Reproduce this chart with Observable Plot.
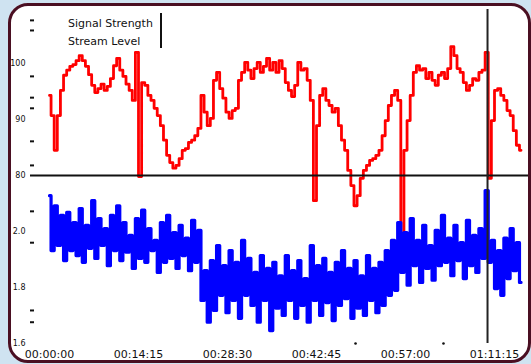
<!DOCTYPE html>
<html>
<head>
<meta charset="utf-8">
<script src="https://cdn.jsdelivr.net/npm/d3@7"></script>
<script src="https://cdn.jsdelivr.net/npm/@observablehq/plot@0.6"></script>
<style>
  html, body { margin: 0; padding: 0; }
  body { width: 531px; height: 364px; overflow: hidden; position: relative; background: #cfe3f1; font-family: "DejaVu Sans", sans-serif; }
  #panel { position: absolute; left: 8px; top: 3px; width: 517px; height: 354px; border: 3px solid transparent; border-radius: 20px; background: #ffffff; }
  #panelBorder { position: absolute; left: 8px; top: 3px; width: 517px; height: 354px; border: 3px solid #4a0f22; border-radius: 20px; z-index: 3; pointer-events: none; }
  #chart { position: absolute; left: 0; top: 0; z-index: 1; }
  #legend { position: absolute; left: 68px; top: 15px; z-index: 2; font-size: 11px; line-height: 17.5px; color: #111; }
  #legendLine { position: absolute; left: 160px; top: 13px; width: 2px; height: 35px; background: #111; z-index: 2; }
</style>
</head>
<body>
<div id="panel"></div>
<div id="chart"></div>
<div id="legend"></div>
<div id="legendLine"></div>
<div id="panelBorder"></div>
<script>
// ---- data ----
const sampleInterval = 30; // seconds between samples
const signalStrength = [
  44.3, 40.7, 34.5, 40.7, 45.2, 47.9, 48.8, 49.5, 49.8, 50.5,
  51.4, 50.5, 49.5, 48.0, 46.1, 44.8, 45.5, 46.3, 45.2, 45.9,
  47.3, 49.6, 50.9, 48.8, 47.7, 46.3, 45.2, 43.4, 52.0, 29.8,
  46.6, 46.1, 44.3, 43.4, 42.0, 40.7, 38.9, 36.3, 33.6, 32.3,
  31.3, 31.8, 33.0, 34.5, 34.8, 35.9, 36.3, 37.1, 38.4, 44.3,
  41.3, 38.9, 40.2, 47.0, 48.4, 45.5, 43.8, 41.3, 40.2, 41.6,
  42.0, 47.0, 48.4, 50.2, 48.8, 47.3, 49.1, 50.2, 48.4, 49.5,
  50.9, 48.8, 50.2, 48.4, 50.5, 49.1, 46.6, 45.2, 44.1, 46.1,
  50.2, 48.8, 49.1, 47.0, 43.4, 25.5, 38.9, 44.3, 45.5, 43.4,
  42.5, 41.3, 42.0, 38.9, 36.3, 34.5, 30.9, 28.2, 24.6, 26.4,
  29.5, 30.9, 31.8, 32.7, 33.0, 33.6, 34.5, 37.1, 39.8, 42.5,
  44.3, 45.2, 43.4, 18.4, 34.5, 39.8, 44.3, 48.4, 49.6, 48.8,
  49.1, 47.3, 48.4, 47.0, 46.1, 47.9, 48.4, 47.3, 49.1, 53.0,
  51.4, 49.1, 48.4, 46.6, 45.2, 46.1, 47.3, 47.0, 48.4, 48.8,
  52.0, 29.5, 39.8, 45.2, 45.5, 44.3, 43.4, 41.6, 40.7, 38.0,
  35.4, 34.5
];
const streamLevel = [
  26.4, 16.6, 24.6, 17.5, 22.9, 14.8, 23.4, 16.6, 21.6, 15.7,
  24.1, 14.5, 21.1, 17.0, 25.5, 15.2, 22.3, 17.5, 20.5, 13.9,
  22.9, 16.6, 24.6, 14.8, 21.6, 16.3, 19.3, 13.4, 22.3, 15.2,
  23.8, 14.5, 20.5, 16.6, 18.4, 12.7, 21.6, 14.5, 22.9, 15.2,
  19.8, 13.4, 21.1, 15.7, 18.8, 13.0, 22.0, 14.5, 20.2, 7.7,
  13.0, 3.8, 14.8, 5.9, 17.5, 8.6, 13.9, 5.5, 16.6, 7.7,
  14.5, 4.5, 18.4, 8.6, 15.2, 6.8, 12.7, 3.8, 15.7, 7.7,
  13.4, 2.3, 14.5, 6.3, 12.1, 5.0, 15.7, 7.7, 13.0, 4.5,
  14.8, 6.8, 11.6, 3.8, 17.5, 7.7, 13.9, 5.0, 15.2, 7.3,
  12.7, 4.1, 14.5, 6.8, 16.6, 8.0, 13.4, 4.5, 14.8, 6.3,
  12.1, 5.0, 15.7, 7.7, 13.4, 5.5, 14.5, 6.8, 16.6, 8.6,
  18.4, 9.5, 21.6, 12.7, 19.8, 10.4, 22.3, 13.9, 18.4, 10.9,
  21.1, 13.4, 17.5, 11.3, 20.2, 13.9, 22.9, 14.5, 18.8, 12.1,
  21.1, 14.8, 18.0, 11.6, 22.0, 13.9, 19.3, 12.7, 20.5, 15.2,
  27.3, 14.5, 18.4, 9.8, 16.6, 8.6, 18.8, 11.6, 20.5, 13.0,
  18.0, 10.9
];
const seriesNames = ["Signal Strength", "Stream Level"];
const xTicks = [0, 855, 1710, 2565, 3420, 4275];
const xTickLabels = ["00:00:00", "00:14:15", "00:28:30", "00:42:45", "00:57:00", "01:11:15"];
const xMinorTicks = [2940, 3785];
const yTicks = [0, 10, 20, 30, 40, 50];
const yTickLabels = ["1.6", "1.8", "2.0", "80", "90", "100"];
const yMinorTicks = [3.8, 5.9, 18.0, 23.6, 31.8, 36.1, 42.0, 43.9, 47.7, 55.9, 57.7];
const separatorLevel = 30;
const cursorTime = 4208;

// ---- table ----
const rows = signalStrength.map((s, i) => ({ t: i * sampleInterval, signal: s, level: streamLevel[i] }));

const chart = Plot.plot({
  width: 531,
  height: 364,
  marginLeft: 49,
  marginRight: 37,
  marginTop: 63,
  marginBottom: 21,
  style: { background: "transparent", fontFamily: "DejaVu Sans, sans-serif", color: "#111" },
  x: { type: "linear", domain: [0, 4275] },
  y: { type: "linear", domain: [0, 50] },
  marks: [
    Plot.line(rows, { x: "t", y: "signal", stroke: "#ff0000", strokeWidth: 2.8, curve: "step" }),
    Plot.line(rows, { x: "t", y: "level", stroke: "#0000ff", strokeWidth: 3.2, curve: "step" }),
    Plot.ruleY([separatorLevel], { stroke: "#111", strokeWidth: 2, insetLeft: -19, insetRight: -40 }),
    Plot.ruleX([cursorTime], { stroke: "#222", strokeWidth: 2, insetTop: -54 }),
    Plot.dot(xMinorTicks, { x: d => d, y: 0, r: 1.3, fill: "#111", stroke: null }),
    Plot.axisY({ ticks: yTicks, tickFormat: d => yTickLabels[yTicks.indexOf(d)], tickSize: 0, tickPadding: 24, fontSize: 8, label: null }),
    Plot.axisY({ ticks: yMinorTicks, tickFormat: () => "", tickSize: 4, dx: -15, strokeWidth: 2, label: null }),
    Plot.axisX({ ticks: xTicks, tickFormat: d => xTickLabels[xTicks.indexOf(d)], tickSize: 0, tickPadding: 7, fontSize: 11, label: null })
  ]
});
document.getElementById("chart").appendChild(chart);
document.getElementById("legend").innerHTML = seriesNames.map(n => `<div>${n}</div>`).join("");
</script>
</body>
</html>
